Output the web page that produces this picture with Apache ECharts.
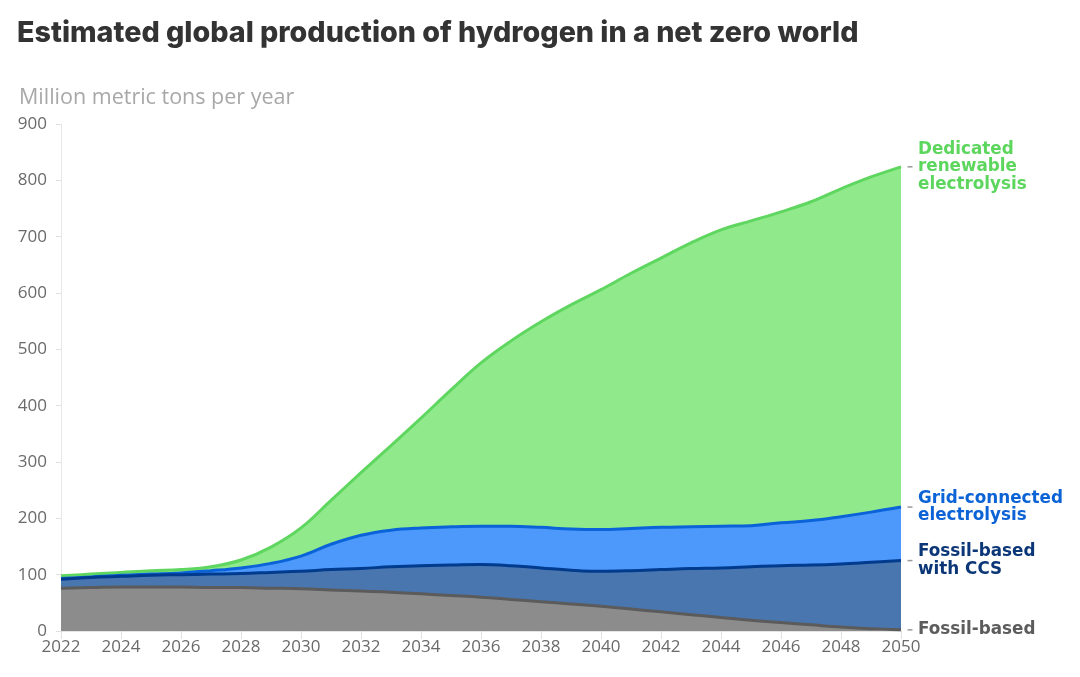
<!DOCTYPE html>
<html>
<head>
<meta charset="utf-8">
<script src="https://cdn.jsdelivr.net/npm/echarts@6/dist/echarts.min.js"></script>
<style>
html,body{margin:0;padding:0;background:#fff;}
#chart{width:1080px;height:677px;}
</style>
</head>
<body>
<div id="chart"></div>
<script>
var years = ['2022','2023','2024','2025','2026','2027','2028','2029','2030','2031','2032','2033','2034','2035','2036','2037','2038','2039','2040','2041','2042','2043','2044','2045','2046','2047','2048','2049','2050'];
var fossilBased = [76,77,78,78,78,77,77,76,75,73,71,69,66,63,60,56,52,48,44,39,34,29,24,19,15,11,7,4,2];
var fossilCCS = [16,18,19,21,22,24,25,28,31,36,40,45,50,54,58,60,60,60,62,68,75,82,88,95,101,106,112,118,123];
var gridElectrolysis = [1,1,2,2,3,6,10,16,27,45,59,65,67,68,68,70,72,73,74,75,75,74,74,73,76,79,84,89,95];
var renewableElectrolysis = [5,5,5,6,6,7,14,29,50,78,111,150,195,243,290,329,365,398,426,453,478,504,526,541,552,566,582,595,604];
var seriesNames = ['Fossil-based','Fossil-based\nwith CCS','Grid-connected\nelectrolysis','Dedicated\nrenewable\nelectrolysis'];
var yTicks = [0,100,200,300,400,500,600,700,800,900];

var chart = echarts.init(document.getElementById('chart'));
var fills = ['#8c8c8c','#4a76b0','#4c98fb','#90ea8c'];
var lines = ['#5b5b5b','#003b8e','#0a63d8','#5fd65f'];
var labelColors = ['#5c5c5c','#0b3677','#0b63d6','#5dd65d'];
var dataSets = [fossilBased, fossilCCS, gridElectrolysis, renewableElectrolysis];
var last = years.length - 1;
var cum = 0;
var series = dataSets.map(function(d, i){
  cum += d[last];
  return {
    name: seriesNames[i],
    type: 'line',
    stack: 'total',
    smooth: 0.4,
    symbol: 'none',
    z: 10 - i,
    data: d,
    lineStyle: {color: lines[i], width: 3},
    areaStyle: {color: fills[i], opacity: 1},
    itemStyle: {color: lines[i]},
    endLabel: {
      show: true,
      formatter: seriesNames[i],
      distance: 17,
      color: labelColors[i],
      fontFamily: 'DejaVu Sans',
      fontWeight: 'bold',
      fontSize: 16.8,
      lineHeight: 17.5
    },
    markPoint: {
      symbol: 'rect',
      symbolSize: [5, 1.5],
      symbolOffset: [9, 0],
      silent: true,
      label: {show: false},
      itemStyle: {color: '#9a9a9a'},
      data: [{coord: [years[last], cum]}]
    }
  };
});

chart.setOption({
  animation: false,
  backgroundColor: '#fff',
  title: [{
    text: 'Estimated global production of hydrogen in a net zero world',
    left: 12, top: 14,
    textStyle: {fontFamily: 'Inter', fontWeight: 800, fontSize: 28.7, color: '#333'}
  },{
    text: 'Million metric tons per year',
    left: 14, top: 82,
    textStyle: {fontFamily: 'Open Sans', fontWeight: 'normal', fontSize: 21.5, color: '#a8a8a8'}
  }],
  grid: {left: 61, right: 179, top: 124, bottom: 46},
  xAxis: {
    type: 'category',
    data: years,
    boundaryGap: false,
    axisLine: {show: true, lineStyle: {color: '#e4e4e4', width: 1}},
    axisTick: {show: true, interval: 1, length: 8, lineStyle: {color: '#e0e0e0'}},
    axisLabel: {interval: 1, color: '#6a6a6a', fontFamily: 'Open Sans', fontSize: 17, margin: 8},
    splitLine: {show: false}
  },
  yAxis: {
    type: 'value',
    min: 0, max: 900, interval: 100,
    axisLine: {show: true, lineStyle: {color: '#e8e8e8'}},
    axisTick: {show: true, length: 5, lineStyle: {color: '#e0e0e0'}},
    axisLabel: {color: '#6a6a6a', fontFamily: 'Open Sans', fontSize: 17, margin: 14,
      formatter: function(v){ return yTicks.indexOf(v) >= 0 ? String(v) : ''; }},
    splitLine: {show: false}
  },
  series: series
});
</script>
</body>
</html>
